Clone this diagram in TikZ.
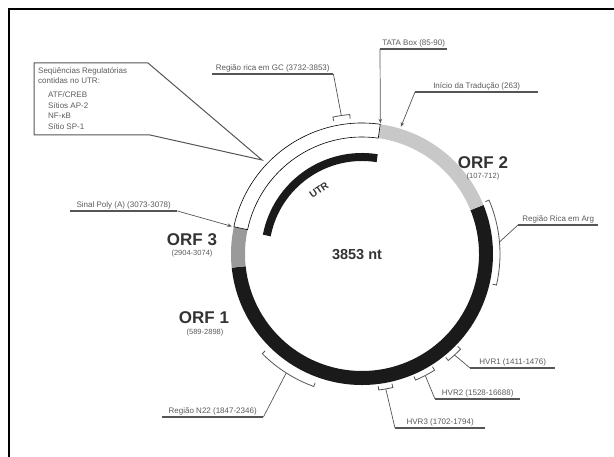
\documentclass[tikz,border=0pt]{standalone}
\usepackage{fontspec}
\setmainfont{Liberation Sans}
\usetikzlibrary{calc,arrows.meta}
\definecolor{txt}{HTML}{5A5A5A}
\definecolor{dark}{HTML}{333333}
\definecolor{lin}{HTML}{555555}
\definecolor{orfone}{HTML}{1A1A1A}
\definecolor{orftwo}{HTML}{C8C8C8}
\definecolor{orfthree}{HTML}{9A9A9A}
\newcommand\ringseg[3]{\fill[#3] ($(C)+(#1:131)$) arc[start angle=#1, end angle=#2, radius=131] -- ($(C)+(#2:117)$) arc[start angle=#2, end angle=#1, radius=117] -- cycle;}
\newcommand\mybrk[4]{\draw[brkst] ($(C)+(#2:{#4-4})$) -- ($(C)+(#2:#4)$) arc[start angle=#2, end angle=#3, radius=#4] -- ($(C)+(#3:{#4-4})$);
  \coordinate (#1) at ($(C)+({(#2+#3)/2}:#4)$);}
\begin{document}
\begin{tikzpicture}[x=1pt,y=1pt,
  lbl/.style={font=\fontsize{8}{9}\selectfont, text=txt, inner xsep=0pt, inner ysep=1.5pt, anchor=south west},
  uline/.style={draw=lin, line width=1.1pt},
  conn/.style={draw=lin, line width=0.7pt},
  arr/.style={conn, -{Stealth[length=4.5pt,width=3.5pt]}},
  brkst/.style={draw=lin, line width=0.8pt},
  orf/.style={font=\bfseries\fontsize{17}{17}\selectfont, text=dark, inner sep=0pt},
  orfsub/.style={font=\fontsize{7.5}{8}\selectfont, text=txt, inner sep=0pt},
  boxtxt/.style={font=\fontsize{8}{9}\selectfont, text=txt, inner sep=0pt, anchor=west}]
\useasboundingbox (0,0) rectangle (614,-457);
% frame
\draw[line width=2.5pt, black] (9,-457) -- (9,-9) -- (614,-9);
% ring
\coordinate (C) at (362,-254);
\ringseg{-174}{22}{orfone}
\ringseg{22}{82}{orftwo}
\ringseg{168}{186}{orfthree}
\filldraw[fill=white, draw=black, line width=0.6pt] ($(C)+(82:131)$) arc[start angle=82, end angle=168, radius=131] -- ($(C)+(168:117)$) arc[start angle=168, end angle=82, radius=117] -- cycle;
% UTR inner arc
\draw[line width=8pt, orfone] ($(C)+(81:97)$) arc[start angle=81, end angle=169, radius=97];
\node[rotate=34, inner sep=0pt, font=\bfseries\fontsize{10}{10}\selectfont, text=dark] (utr) at ($(C)+(124:77)$) {UTR};
\node[font=\bfseries\fontsize{14.5}{15}\selectfont, text=dark] (nt) at (357,-255) {3853 nt};
% ORF labels
\node[orf] (orf2) at (483,-163) {ORF 2};
\node[orfsub] (orf2r) at (483,-177) {(107-712)};
\node[orf] (orf3) at (192,-240) {ORF 3};
\node[orfsub] (orf3r) at (192,-254) {(2904-3074)};
\node[orf] (orf1) at (204,-318) {ORF 1};
\node[orfsub] (orf1r) at (205,-333) {(589-2898)};
% brackets
\mybrk{gcb}{95}{102}{140}
\mybrk{argb}{-13}{23}{138}
\mybrk{hvaa}{-44}{-51}{137}
\mybrk{hvbb}{-58}{-67}{137}
\mybrk{hvcc}{-77}{-83}{137}
\mybrk{nb}{225}{250}{141}
% arrow targets
\coordinate (tata) at ($(C)+(82:132)$);
\coordinate (init) at ($(C)+(73:133)$);
\coordinate (poly) at ($(C)+(168:133)$);
\coordinate (boxpt) at (262,-160);
% labels
\node[lbl, minimum width=121pt] (gc) at (212,-74) {Região rica em GC (3732-3853)};
\draw[uline] (gc.south west) -- (gc.south east);
\draw[conn] (gc.south east) -- (gcb);
\node[lbl, minimum width=67pt] (tb) at (380,-49) {TATA Box (85-90)};
\draw[uline] (tb.south west) -- (tb.south east);
\draw[arr] (tb.south west) -- (tata);
\node[lbl, minimum width=123pt] (it) at (415,-92) {Início da Tradução (263)};
\draw[uline] (it.south west) -- (it.south east);
\draw[arr] (it.south west) -- (init);
\node[lbl, minimum width=80pt] (arg) at (518,-225) {Região Rica em Arg};
\draw[uline] (arg.south west) -- (arg.south east);
\draw[conn] (arg.south west) -- (argb);
\node[lbl, minimum width=85pt] (h1) at (470,-368) {HVR1 (1411-1476)};
\draw[uline] (h1.south west) -- (h1.south east);
\draw[conn] (h1.south west) -- (hvaa);
\node[lbl, minimum width=85pt] (h2) at (435,-399) {HVR2 (1528-16688)};
\draw[uline] (h2.south west) -- (h2.south east);
\draw[conn] (h2.south west) -- (hvbb);
\node[lbl, minimum width=90pt] (h3) at (395,-428) {HVR3 (1702-1794)};
\draw[uline] (h3.south west) -- (h3.south east);
\draw[conn] (h3.south west) -- (hvcc);
\node[lbl, minimum width=101pt] (n22) at (162,-417) {Região N22 (1847-2346)};
\draw[uline] (n22.south west) -- (n22.south east);
\draw[conn] (n22.south east) -- (nb);
\node[lbl, minimum width=107pt] (pa) at (70,-211) {Sinal Poly (A) (3073-3078)};
\draw[uline] (pa.south west) -- (pa.south east);
\draw[arr] (pa.south east) -- (poly);
% regulatory box
\coordinate (bxa) at (34,-63);
\coordinate (bxb) at (148,-63);
\coordinate (bxc) at (150,-135);
\coordinate (bxd) at (34,-135);
\draw[draw=lin, line width=1pt, line join=miter] (bxa) -- (bxb) -- (boxpt) -- (bxc) -- (bxd) -- cycle;
\node[boxtxt] (r1) at (38,-71) {Seqüências Regulatórias};
\node[boxtxt] (r2) at (38,-80.5) {contidas no UTR:};
\node[boxtxt] (r3) at (48,-95) {ATF/CREB};
\node[boxtxt] (r4) at (48,-105.5) {Sítios AP-2};
\node[boxtxt] (r5) at (48,-116) {NF-κB};
\node[boxtxt] (r6) at (48,-126.5) {Sítio SP-1};
\end{tikzpicture}
\end{document}
